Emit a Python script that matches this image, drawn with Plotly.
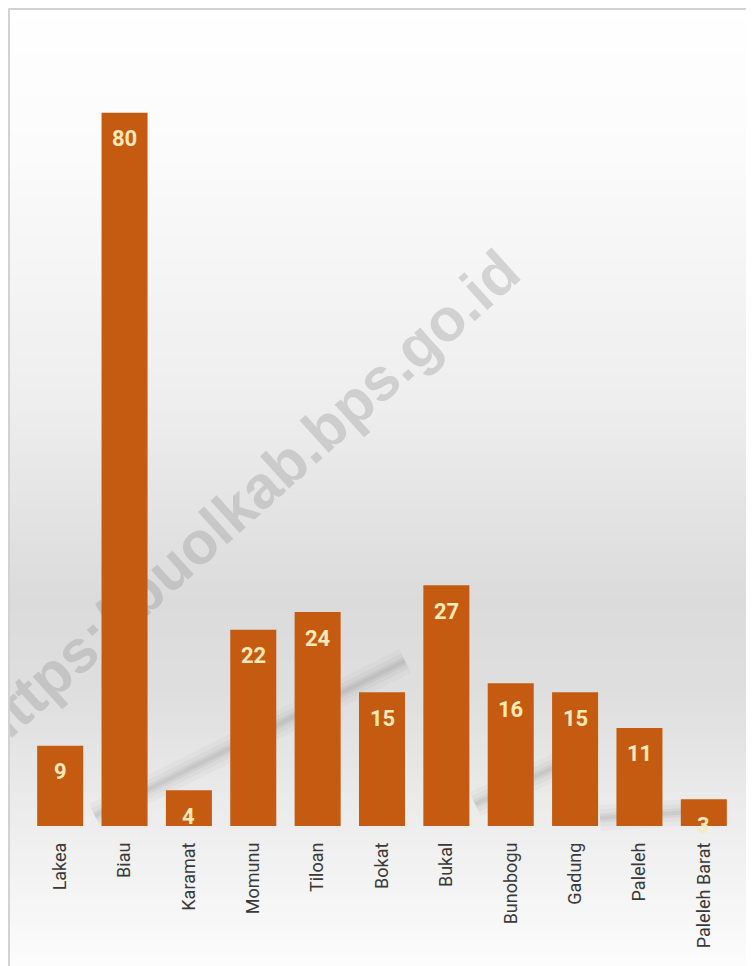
import math
import plotly.graph_objects as go

# ---- data ----
categories = ["Lakea", "Biau", "Karamat", "Momunu", "Tiloan", "Bokat", "Bukal",
              "Bunobogu", "Gadung", "Paleleh", "Paleleh Barat"]
values = [9, 80, 4, 22, 24, 15, 27, 16, 15, 11, 3]
watermark = "https://buolkab.bps.go.id"

# page is offset by the default 8px body margin
OFF = 8
W, H = 754 - OFF, 966 - OFF
L, R, T, B = 28 - OFF, 754 - 736, 20 - OFF, 966 - 826
PW, PH = W - L - R, H - T - B

def px(X):  # page pixel -> paper
    return (X - OFF - L) / PW

def py(Y):
    return (H - B - (Y - OFF)) / PH

BAR = "#c55a11"
LABEL = "#fce9b8"
TICKFONT = "Roboto, Liberation Sans, sans-serif"

fig = go.Figure()
fig.add_trace(go.Bar(
    x=categories, y=values, marker=dict(color=BAR, line=dict(width=0)),
    hoverinfo="skip", showlegend=False,
))

shapes = []
# background vertical gradient
stops = [(0, (255, 255, 255)), (150, (251, 251, 251)), (400, (238, 238, 238)),
         (600, (219, 219, 219)), (700, (223, 223, 223)), (830, (238, 238, 238)),
         (966, (252, 252, 252))]
def col_at(Y):
    for (y0, c0), (y1, c1) in zip(stops[:-1], stops[1:]):
        if y0 <= Y <= y1:
            t = (Y - y0) / (y1 - y0)
            return tuple(round(a + (b - a) * t) for a, b in zip(c0, c1))
    return stops[-1][1]
step = 6
for Y in range(0, 966, step):
    c = col_at(Y + step / 2)
    shapes.append(dict(type="rect", xref="paper", yref="paper", layer="below",
                       x0=px(0), x1=px(760), y0=py(Y + step + 1), y1=py(Y),
                       fillcolor="rgb(%d,%d,%d)" % c, line=dict(width=0)))
# soft diagonal shadow (decoration)
for w, op in [(26, 0.03), (17, 0.045), (9, 0.06), (4, 0.07)]:
    for (a, b, c, d) in [(95, 816, 405, 661), (475, 804, 560, 765), (600, 818, 690, 812)]:
        shapes.append(dict(type="line", xref="paper", yref="paper", layer="below",
                           x0=px(a), y0=py(b), x1=px(c), y1=py(d),
                           line=dict(color="rgba(70,70,70,%.3f)" % op, width=w)))
# watermark, drawn beneath the bars as a shape label
cx, cy, ang = 241, 496, 42
dx, dy = math.cos(math.radians(ang)) * 300, math.sin(math.radians(ang)) * 300
shapes.append(dict(type="line", xref="paper", yref="paper", layer="below",
                   x0=px(cx - dx), y0=py(cy + dy), x1=px(cx + dx), y1=py(cy - dy),
                   line=dict(width=0, color="rgba(0,0,0,0)"),
                   label=dict(text="<b>%s</b>" % watermark, textangle=-ang,
                              textposition="middle", yanchor="middle", xanchor="center",
                              font=dict(family="Liberation Sans, Arial, sans-serif",
                                        size=60, color="rgba(150,150,150,0.35)"))))
# frame lines
shapes.append(dict(type="line", xref="paper", yref="paper", layer="above",
                   x0=px(9), x1=px(9), y0=py(966), y1=py(8.5),
                   line=dict(color="#d2d2d2", width=2)))
shapes.append(dict(type="line", xref="paper", yref="paper", layer="above",
                   x0=px(8.5), x1=px(760), y0=py(9), y1=py(9),
                   line=dict(color="#d2d2d2", width=2)))

annotations = []
for c, v in zip(categories, values):
    annotations.append(dict(x=c, y=v, xref="x", yref="y", text="<b>%d</b>" % v,
                            showarrow=False, yshift=-26, yanchor="middle",
                            font=dict(family=TICKFONT, size=22, color=LABEL)))

fig.update_layout(
    width=W, height=H, margin=dict(l=L, r=R, t=T, b=B),
    paper_bgcolor="white", plot_bgcolor="rgba(0,0,0,0)",
    bargap=0.285, shapes=shapes, annotations=annotations,
    xaxis=dict(tickangle=-90, showgrid=False, showline=False, zeroline=False,
               ticks="", ticklabelstandoff=12,
               tickfont=dict(family=TICKFONT, size=18, color="#3a3a3a")),
    yaxis=dict(range=[0, 90.4], showgrid=False, showline=False, zeroline=False,
               showticklabels=False, ticks=""),
)

fig.write_html("out.html")
